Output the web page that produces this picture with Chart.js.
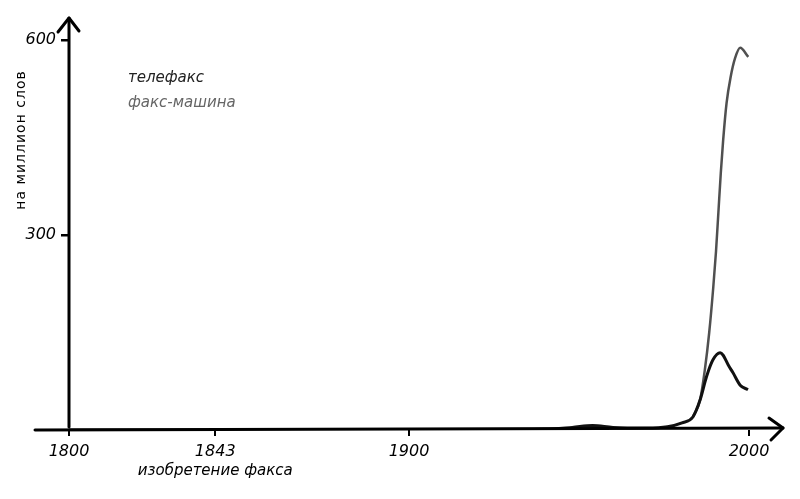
<!DOCTYPE html>
<html>
<head>
<meta charset="utf-8">
<script src="https://cdn.jsdelivr.net/npm/chart.js@4"></script>
<style>
html,body{margin:0;padding:0;background:#fff;}
#wrap{width:800px;height:499px;position:relative;}
</style>
</head>
<body>
<div id="wrap"><canvas id="c" width="800" height="499"></canvas></div>
<script>
// ---- data ----
const seriesNames = ["телефакс", "факс-машина"];
const telefaxYears  = [1800, 1850, 1900, 1940, 1948, 1954, 1960, 1970, 1976, 1980.3, 1983.5, 1985.6, 1987.5, 1989.4, 1991.5, 1992.4, 1993.9, 1995.3, 1997.4, 1999.7];
const telefaxValues = [0,    0,    0,    1,    4,    7,    4,    3,    5,    11,     20,     46,     82,     108,    119,    115,    100,    88,     69,     62];
const faxYears  = [1983.5, 1985.6, 1987, 1988.3, 1989.5, 1990.3, 1991, 1991.7, 1992.4, 1993.4, 1994.6, 1995.9, 1997.4, 1999.8];
const faxValues = [20,     46,     92,   150,    220,    275,    335,  395,    446,    503,    543,    572,    588,    574];
const xTicks = [1800, 1843, 1900, 2000];
const yTicks = [300, 600];
const yTitle = "на миллион слов";
const xNote = "изобретение факса";
const noteYear = 1843;

const FONT = '"DejaVu Sans", sans-serif';

const axesPlugin = {
  id: 'handAxes',
  afterDraw(chart) {
    const ctx = chart.ctx;
    const xs = chart.scales.x, ys = chart.scales.y;
    const x0 = xs.getPixelForValue(1800);
    const y0 = ys.getPixelForValue(0);
    const yTop = ys.getPixelForValue(600) - 22;
    const xLeft = xs.getPixelForValue(1800) - 34;
    const xRight = xs.getPixelForValue(2000) + 34;
    ctx.save();
    ctx.strokeStyle = '#000';
    ctx.lineWidth = 3;
    ctx.lineCap = 'round';
    ctx.lineJoin = 'round';
    // y axis
    ctx.beginPath();
    ctx.moveTo(x0, y0 - 3);
    ctx.lineTo(x0, yTop);
    ctx.stroke();
    ctx.beginPath();
    ctx.moveTo(x0 - 11, yTop + 14);
    ctx.lineTo(x0, yTop);
    ctx.lineTo(x0 + 10, yTop + 13);
    ctx.stroke();
    // x axis
    ctx.beginPath();
    ctx.moveTo(xLeft, y0);
    ctx.lineTo(xRight, y0 - 2);
    ctx.stroke();
    ctx.beginPath();
    ctx.moveTo(xRight - 14, y0 - 12);
    ctx.lineTo(xRight, y0 - 2);
    ctx.lineTo(xRight - 12, y0 + 10);
    ctx.stroke();
    // y title
    ctx.fillStyle = '#000';
    ctx.font = '14px ' + FONT;
    if ('letterSpacing' in ctx) ctx.letterSpacing = '1px';
    ctx.translate(21, 140);
    ctx.rotate(-Math.PI / 2);
    ctx.textAlign = 'center';
    ctx.textBaseline = 'middle';
    ctx.fillText(yTitle, 0, 0);
    ctx.restore();
    // x note
    ctx.save();
    ctx.fillStyle = '#000';
    ctx.font = 'italic 15px ' + FONT;
    ctx.textAlign = 'center';
    ctx.textBaseline = 'middle';
    ctx.fillText(xNote, xs.getPixelForValue(noteYear), 471);
    ctx.restore();
    // legend
    ctx.save();
    ctx.font = 'italic 15px ' + FONT;
    ctx.textAlign = 'left';
    ctx.textBaseline = 'middle';
    chart.data.datasets.forEach((ds, i) => {
      ctx.fillStyle = ds.legendColor;
      ctx.fillText(ds.label, 128, 78 + i * 25);
    });
    ctx.restore();
  }
};

new Chart(document.getElementById('c'), {
  type: 'line',
  data: {
    datasets: [
      {
        label: seriesNames[0],
        data: telefaxYears.map((x, i) => ({x, y: telefaxValues[i]})),
        borderColor: '#111',
        legendColor: '#222',
        borderWidth: 3,
        pointRadius: 0,
        cubicInterpolationMode: 'monotone',
        order: 1
      },
      {
        label: seriesNames[1],
        data: faxYears.map((x, i) => ({x, y: faxValues[i]})),
        borderColor: '#505050',
        legendColor: '#666',
        borderWidth: 2.5,
        pointRadius: 0,
        cubicInterpolationMode: 'monotone',
        order: 2
      }
    ]
  },
  options: {
    responsive: false,
    animation: false,
    layout: { padding: { top: 40, right: 51, left: 0, bottom: 0 } },
    plugins: { legend: { display: false }, tooltip: { enabled: false } },
    scales: {
      x: {
        type: 'linear',
        min: 1800, max: 2000,
        afterBuildTicks: s => { s.ticks = xTicks.map(v => ({value: v})); },
        afterFit: s => { s.height = 69; },
        border: { display: false },
        grid: { drawOnChartArea: false, drawTicks: true, tickLength: 6, color: '#000', lineWidth: 2 },
        ticks: { color: '#000', font: { family: FONT, size: 16, style: 'italic' }, padding: 6, maxRotation: 0, callback: v => String(v) }
      },
      y: {
        min: 0, max: 600,
        afterBuildTicks: s => { s.ticks = yTicks.map(v => ({value: v})); },
        afterFit: s => { s.width = 69; },
        border: { display: false },
        grid: { drawOnChartArea: false, drawTicks: true, tickLength: 8, color: '#000', lineWidth: 2.5 },
        ticks: { color: '#000', font: { family: FONT, size: 16, style: 'italic' }, padding: 5, callback: v => String(v) }
      }
    }
  },
  plugins: [axesPlugin]
});
</script>
</body>
</html>
